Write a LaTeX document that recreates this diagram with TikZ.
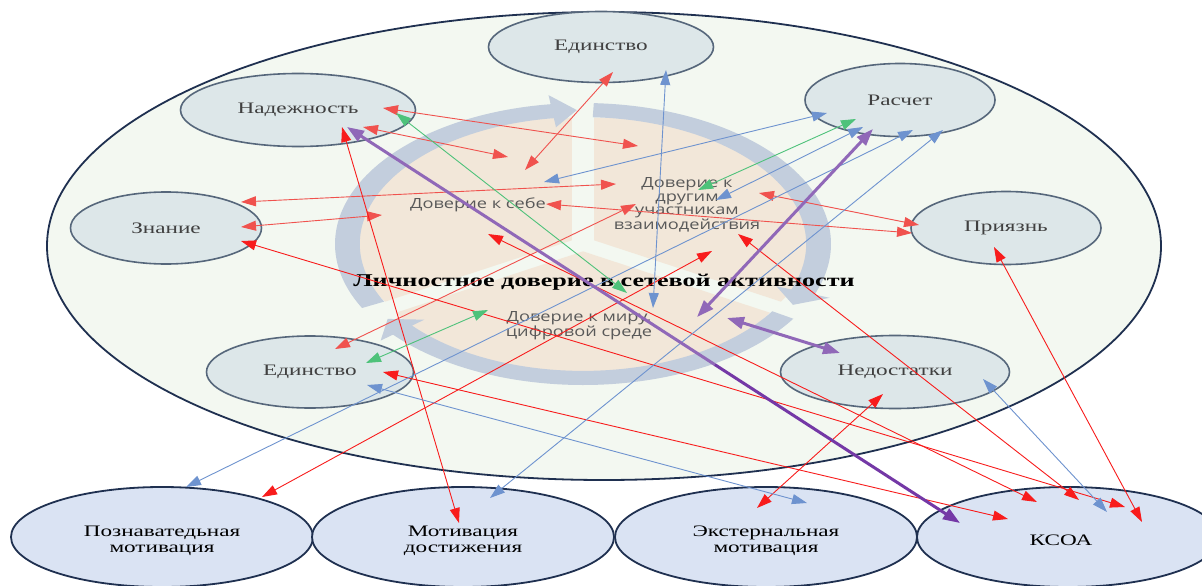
\documentclass[tikz,border=0pt]{standalone}
\usepackage{fontspec}
\setmainfont{Liberation Serif}[FakeStretch=1.45]
\newfontfamily\piefont{Open Sans}[FakeStretch=1.3]
\usetikzlibrary{shapes.geometric,arrows.meta,calc}
\definecolor{bigfill}{HTML}{F3F8F1}
\definecolor{navy}{HTML}{1F3050}
\definecolor{inFill}{HTML}{DDE7E9}
\definecolor{inDraw}{HTML}{56677B}
\definecolor{outFill}{HTML}{DAE3F3}
\definecolor{pieFill}{HTML}{F2E7D9}
\definecolor{ringFill}{HTML}{C3CEDD}
\definecolor{salmon}{HTML}{F0524E}
\definecolor{brightred}{HTML}{F81C1C}
\definecolor{blueln}{HTML}{6E93CF}
\definecolor{greenln}{HTML}{4EC27A}
\definecolor{purpleln}{HTML}{9068B8}
\definecolor{purpledk}{HTML}{7438A6}
\definecolor{gtext}{HTML}{404040}
\definecolor{ptext}{HTML}{595959}
\newcommand\ringarrow[2]{%
  \fill[ringarc] (#1:1) arc[start angle=#1, end angle=#2, radius=1]
    -- (#2:1.065) -- ({#2-6}:0.95) -- (#2:0.835) -- (#2:0.9)
    arc[start angle=#2, end angle=#1, radius=0.9] -- cycle;}
\begin{document}
\begin{tikzpicture}[x=1pt,y=-1pt,
  inel/.style={ellipse, draw=inDraw, line width=1.6pt, fill=inFill, inner sep=0pt, text=gtext, font=\fontsize{16}{16}\selectfont},
  outel/.style={ellipse, draw=navy, line width=1.8pt, fill=outFill, inner sep=0pt, minimum width=302pt, minimum height=100pt},
  outtext/.style={align=center, font=\fontsize{16}{16}\selectfont},
  pietext/.style={text=ptext, align=center, font=\piefont\fontsize{14}{13.3}\selectfont},
  ringarc/.style={fill=ringFill},
  wedge/.style={fill=pieFill},
  conn/.style={line width=0.9pt, {Triangle[length=15pt,width=10pt]}-{Triangle[length=15pt,width=10pt]}},
  lred/.style={conn, draw=salmon},
  bred/.style={conn, draw=brightred},
  lblue/.style={conn, draw=blueln},
  lgreen/.style={conn, draw=greenln},
  lpurple/.style={line width=3pt, draw=purpleln, {Triangle[length=17pt,width=12pt]}-{Triangle[length=17pt,width=12pt]}},
  pstart/.style={line width=3pt, draw=purpleln, {Triangle[length=17pt,width=12pt]}-},
  pend/.style={line width=3pt, draw=purpledk, -{Triangle[length=17pt,width=12pt]}},
]
\useasboundingbox (0,0) rectangle (1202,586);
\fill[white] (0,0) rectangle (1202,586);

% big ellipse
\node[ellipse, draw=navy, line width=1.8pt, fill=bigfill, minimum width=1114pt, minimum height=468pt, inner sep=0pt] (main) at (604,246) {};

% cycle graphic
\begin{scope}[shift={(583,244)}, x={(248pt,0pt)}, y={(0pt,141pt)}]
  \fill[wedge, shift={(-0.045,0.026)}] (0,0) -- (90:0.87) arc[start angle=90, end angle=210, radius=0.87] -- cycle;
  \fill[wedge, shift={(0.045,0.026)}] (0,0) -- (-30:0.87) arc[start angle=-30, end angle=90, radius=0.87] -- cycle;
  \fill[wedge, shift={(0,-0.052)}] (0,0) -- (210:0.87) arc[start angle=210, end angle=330, radius=0.87] -- cycle;
  \ringarrow{207}{97.5}
  \ringarrow{87.5}{-21}
  \ringarrow{-32}{-140}
\end{scope}

% inner ellipses
\node[inel, minimum width=225pt, minimum height=71pt] (edtop) at (601,47) {Единство};
\node[inel, minimum width=235pt, minimum height=73pt] (nad) at (298,110) {Надежность};
\node[inel, minimum width=190pt, minimum height=73pt] (rasch) at (900,100) {Расчет};
\node[inel, minimum width=191pt, minimum height=72pt] (znan) at (166,228) {Знание};
\node[inel, minimum width=190pt, minimum height=73pt] (priyazn) at (1006,228) {Приязнь};
\node[inel, minimum width=207pt, minimum height=72pt] (edbot) at (310,372) {Единство};
\node[inel, minimum width=229pt, minimum height=73pt] (nedost) at (895,372) {Недостатки};

% pie texts and title
\node[pietext] (self) at (478,205) {Доверие к себе};
\node[pietext] (others) at (687,205) {Доверие к\\другим\\участникам\\взаимодействия};
\node[pietext] (world) at (579,326) {Доверие к миру,\\цифровой среде};
\node[font=\bfseries\fontsize{18}{18}\selectfont] (title) at (604,282) {Личностное доверие в сетевой активности};

% bottom ellipses
\node[outel] (pozn) at (162,537) {};
\node[outel] (motiv) at (463,537) {};
\node[outel] (ekst) at (766,537) {};
\node[outel] (ksoa) at (1068,537) {};
\node[outtext] (poznT) at (162,541) {Познаватедьная\\мотивация};
\node[outtext] (motivT) at (463,541) {Мотивация\\достижения};
\node[outtext] (ekstT) at (766,541) {Экстернальная\\мотивация};
\node[outtext] (ksoaT) at (1061,540) {КСОА};

% connector end points
\coordinate (r1a) at (383,108);  \coordinate (r1b) at (638,146);
\coordinate (r2a) at (363,127);  \coordinate (r2b) at (508,157);
\coordinate (r3a) at (613,72);   \coordinate (r3b) at (525,170);
\coordinate (r4a) at (241,202);  \coordinate (r4b) at (616,184);
\coordinate (r5a) at (241,227);  \coordinate (r5b) at (382,215);
\coordinate (r6a) at (546,204);  \coordinate (r6b) at (912,233);
\coordinate (r7a) at (759,193);  \coordinate (r7b) at (919,225);
\coordinate (r14a) at (335,349); \coordinate (r14b) at (636,204);
\coordinate (r8a) at (342,127);  \coordinate (r8b) at (459,523);
\coordinate (r9a) at (241,241);  \coordinate (r9b) at (1125,507);
\coordinate (r25a) at (488,234); \coordinate (r25b) at (1037,502);
\coordinate (r24a) at (738,234); \coordinate (r24b) at (1079,500);
\coordinate (r18a) at (383,372); \coordinate (r18b) at (1008,519);
\coordinate (r15a) at (712,251); \coordinate (r15b) at (262,497);
\coordinate (r16a) at (883,394); \coordinate (r16b) at (757,508);
\coordinate (r29a) at (994,247); \coordinate (r29b) at (1142,522);
\coordinate (b1a) at (827,113);  \coordinate (b1b) at (544,182);
\coordinate (b2a) at (863,127);  \coordinate (b2b) at (716,200);
\coordinate (b3a) at (913,130);  \coordinate (b3b) at (186,487);
\coordinate (b4a) at (943,130);  \coordinate (b4b) at (490,498);
\coordinate (b5a) at (666,70);   \coordinate (b5b) at (653,308);
\coordinate (b6a) at (367,385);  \coordinate (b6b) at (807,503);
\coordinate (b7a) at (983,379);  \coordinate (b7b) at (1107,512);
\coordinate (g1a) at (396,113);  \coordinate (g1b) at (627,293);
\coordinate (g2a) at (856,119);  \coordinate (g2b) at (698,190);
\coordinate (g3a) at (366,363);  \coordinate (g3b) at (488,310);
\coordinate (p1a) at (347,127);  \coordinate (p1b) at (960,523);
\coordinate (p1m) at ($(p1a)!0.6!(p1b)$);
\coordinate (p2a) at (873,129);  \coordinate (p2b) at (697,317);
\coordinate (p3a) at (727,318);  \coordinate (p3b) at (840,353);

% connectors
\draw[lred] (r1a) -- (r1b);
\draw[lred] (r2a) -- (r2b);
\draw[lred] (r3a) -- (r3b);
\draw[lred] (r4a) -- (r4b);
\draw[lred] (r5a) -- (r5b);
\draw[lred] (r6a) -- (r6b);
\draw[lred] (r7a) -- (r7b);
\draw[lred] (r14a) -- (r14b);
\draw[bred] (r8a) -- (r8b);
\draw[bred] (r9a) -- (r9b);
\draw[bred] (r25a) -- (r25b);
\draw[bred] (r24a) -- (r24b);
\draw[bred] (r18a) -- (r18b);
\draw[bred] (r15a) -- (r15b);
\draw[bred] (r16a) -- (r16b);
\draw[bred] (r29a) -- (r29b);
\draw[lblue] (b1a) -- (b1b);
\draw[lblue] (b2a) -- (b2b);
\draw[lblue] (b3a) -- (b3b);
\draw[lblue] (b4a) -- (b4b);
\draw[lblue] (b5a) -- (b5b);
\draw[lblue] (b6a) -- (b6b);
\draw[lblue] (b7a) -- (b7b);
\draw[lgreen] (g1a) -- (g1b);
\draw[lgreen] (g2a) -- (g2b);
\draw[lgreen] (g3a) -- (g3b);
\draw[pstart] (p1a) -- (p1m);
\draw[pend] (p1m) -- (p1b);
\draw[lpurple] (p2a) -- (p2b);
\draw[lpurple] (p3a) -- (p3b);
\end{tikzpicture}
\end{document}
